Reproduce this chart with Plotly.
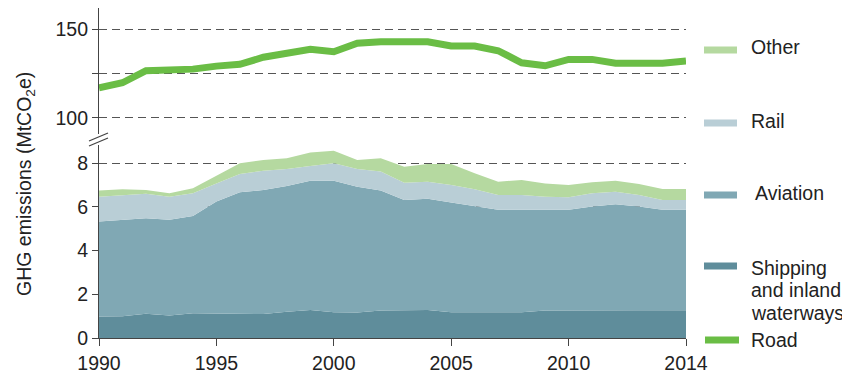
import plotly.graph_objects as go

years = list(range(1990, 2016))
tick_years = [1990, 1995, 2000, 2005, 2010, 2015]
tick_labels = ["1990", "1995", "2000", "2005", "2010", "2014"]

road = [117.0, 119.8, 126.6, 126.6, 127.5, 129.2, 130.2, 134.2, 136.4, 138.7,
        137.3, 142.1, 143.0, 143.0, 143.0, 140.6, 140.6, 137.9, 131.1, 129.4,
        133.0, 133.0, 130.8, 130.8, 130.8, 132.1]
shipping = [0.99, 1.00, 1.11, 1.03, 1.13, 1.13, 1.13, 1.10, 1.20, 1.28,
            1.18, 1.17, 1.26, 1.26, 1.28, 1.18, 1.17, 1.17, 1.18, 1.26,
            1.27, 1.27, 1.27, 1.27, 1.27, 1.27]
aviation = [4.34, 4.41, 4.37, 4.38, 4.46, 5.12, 5.54, 5.68, 5.76, 5.92,
            6.02, 5.76, 5.49, 5.06, 5.10, 5.02, 4.88, 4.70, 4.69, 4.61,
            4.60, 4.75, 4.85, 4.75, 4.60, 4.60]
rail = [1.14, 1.14, 1.12, 1.06, 1.04, 0.83, 0.84, 0.88, 0.78, 0.68,
        0.80, 0.81, 0.87, 0.79, 0.78, 0.81, 0.76, 0.68, 0.68, 0.60,
        0.57, 0.61, 0.58, 0.53, 0.45, 0.45]
other = [0.28, 0.26, 0.18, 0.16, 0.23, 0.34, 0.49, 0.49, 0.49, 0.61,
         0.58, 0.41, 0.61, 0.73, 0.81, 0.96, 0.73, 0.61, 0.69, 0.61,
         0.57, 0.50, 0.50, 0.50, 0.50, 0.50]

c_other = "#b5d9a0"
c_rail = "#b9ced6"
c_aviation = "#80a8b4"
c_shipping = "#5f8d9b"
c_road = "#6abd45"
font_family = "Liberation Sans, Arial, sans-serif"
txt = "#222222"
axc = "#444444"
gridc = "#555555"
fs = 19.5

fig = go.Figure()
for name, vals, col in [("Shipping and inland waterways", shipping, c_shipping),
                        ("Aviation", aviation, c_aviation),
                        ("Rail", rail, c_rail),
                        ("Other", other, c_other)]:
    fig.add_trace(go.Scatter(x=years, y=vals, name=name, stackgroup="one",
                             mode="lines", line=dict(width=0, color=col),
                             fillcolor=col, xaxis="x", yaxis="y"))
fig.add_trace(go.Scatter(x=years, y=road, name="Road", mode="lines",
                         line=dict(width=7, color=c_road), xaxis="x", yaxis="y2"))

# page body has an 8px margin, so the figure is 8px smaller and starts at (8, 8)
fig.update_layout(
    width=842, height=375,
    margin=dict(l=91, r=164, t=0, b=45),
    paper_bgcolor="white", plot_bgcolor="white",
    showlegend=False,
    font=dict(family=font_family, size=fs, color=txt),
    xaxis=dict(range=[1990, 2015], anchor="y", tickvals=tick_years, ticktext=tick_labels,
               showline=True, linecolor=axc, linewidth=1.2, ticks="outside",
               ticklen=7, tickcolor=axc, showgrid=False, zeroline=False,
               tickfont=dict(size=fs, color=txt)),
    yaxis=dict(domain=[0, 0.585], range=[0, 8.84], anchor="x",
               tickvals=[0, 2, 4, 6, 8], showline=True, linecolor=axc, linewidth=1.2,
               ticks="outside", ticklen=6, tickcolor=axc, showgrid=True,
               gridcolor=gridc, gridwidth=1.3, griddash="8px,5px", zeroline=False,
               tickfont=dict(size=fs, color=txt)),
    yaxis2=dict(domain=[0.618, 1], range=[90.8, 162.05], anchor="x",
                tickvals=[100, 150],
                showline=True, linecolor=axc, linewidth=1.2,
                ticks="outside", ticklen=6, tickcolor=axc, showgrid=True,
                gridcolor=gridc, gridwidth=1.3, griddash="8px,5px", zeroline=False,
                minor=dict(tickvals=[125], ticks="outside", ticklen=6, tickcolor=axc,
                           showgrid=True, gridcolor=gridc, gridwidth=1.3,
                           griddash="8px,5px"),
                tickfont=dict(size=fs, color=txt)),
)

def px_x(p):
    return (p - 99) / 587.0

def px_y(p):
    return (338 - p) / 330.0

shapes = []
# axis break marks
for y0, y1 in [(141, 133), (146, 138)]:
    shapes.append(dict(type="line", xref="paper", yref="paper",
                       x0=px_x(89), x1=px_x(108), y0=px_y(y0), y1=px_y(y1),
                       line=dict(color=axc, width=1.3)))

# legend
legend_items = [(c_other, 50, [(47, "Other")], 749),
                (c_rail, 123, [(121, "Rail")], 749),
                (c_aviation, 195, [(193, "Aviation")], 753),
                (c_shipping, 266,
                 [(268, "Shipping"), (290, "and inland"), (313, "waterways")], 749)]
annotations = []
for col, sy, lines, tx in legend_items:
    shapes.append(dict(type="line", xref="paper", yref="paper",
                       x0=px_x(704), x1=px_x(737), y0=px_y(sy), y1=px_y(sy),
                       line=dict(color=col, width=7)))
    for ly, t in lines:
        annotations.append(dict(text=t, xref="paper", yref="paper", x=px_x(tx), y=px_y(ly),
                                xanchor="left", yanchor="middle", showarrow=False,
                                font=dict(size=fs, color=txt)))
shapes.append(dict(type="line", xref="paper", yref="paper",
                   x0=px_x(705), x1=px_x(739), y0=px_y(340), y1=px_y(340),
                   line=dict(color=c_road, width=7)))
annotations.append(dict(text="Road", xref="paper", yref="paper", x=px_x(749), y=px_y(340),
                        xanchor="left", yanchor="middle", showarrow=False,
                        font=dict(size=fs, color=txt)))
# y title
annotations.append(dict(text="GHG emissions (MtCO<sub>2</sub>e)", xref="paper", yref="paper",
                        x=px_x(25), y=px_y(184), xanchor="center", yanchor="middle",
                        textangle=-90, showarrow=False, font=dict(size=fs, color=txt)))

fig.update_layout(shapes=shapes, annotations=annotations)
fig.write_html("out.html")
